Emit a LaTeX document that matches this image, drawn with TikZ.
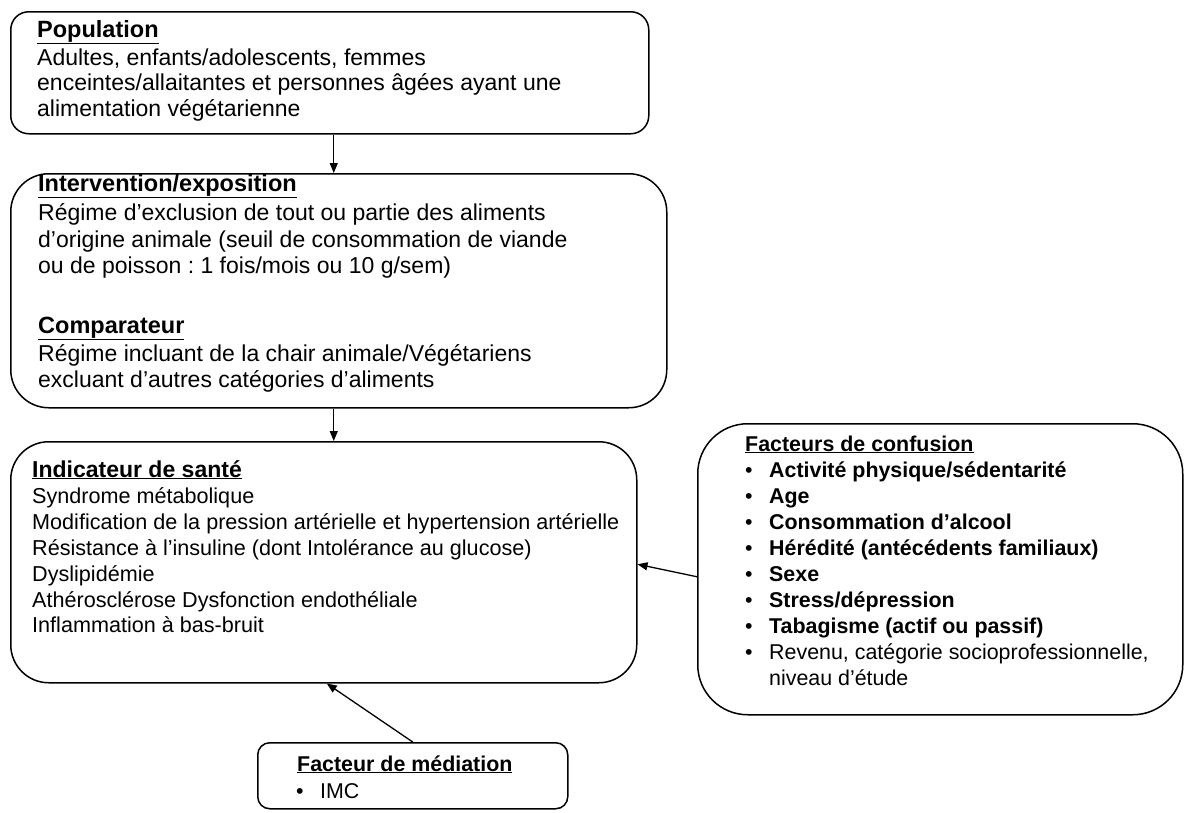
\documentclass[tikz,border=0pt]{standalone}
\usepackage{fontspec}
\setmainfont{Liberation Sans}
\usetikzlibrary{arrows.meta}
\frenchspacing
\begin{document}
\begin{tikzpicture}[x=1pt,y=-1pt,
  box/.style={draw=black, line width=1.5pt, fill=white, inner sep=0pt, anchor=north west},
  arr/.style={draw=black, line width=1.3pt, -{Triangle[length=10pt,width=8pt]}},
  ln/.style={anchor=base west, inner sep=0pt},
  hdA/.style={ln, font=\fontsize{23.5}{26}\selectfont\bfseries},
  bodyA/.style={ln, font=\fontsize{23}{26}\selectfont},
  hdB/.style={ln, font=\fontsize{23}{26}\selectfont\bfseries},
  bodyB/.style={ln, font=\fontsize{21.6}{26}\selectfont},
  hdC/.style={ln, font=\fontsize{21.4}{26}\selectfont\bfseries},
  itemC/.style={ln, font=\fontsize{21.4}{26}\selectfont\bfseries},
  plainC/.style={ln, font=\fontsize{21.4}{26}\selectfont},
  dot/.style={ln, font=\fontsize{21.4}{26}\selectfont}]

% page
\path[fill=white] (0,0) rectangle (1184,812);

% boxes
\node[box, rounded corners=18pt, minimum width=638pt, minimum height=122pt] (pop) at (10,11) {};
\node[box, rounded corners=38pt, minimum width=656pt, minimum height=234pt] (int) at (10,173) {};
\node[box, rounded corners=38pt, minimum width=626pt, minimum height=241pt] (ind) at (10,441) {};
\node[box, rounded corners=50pt, minimum width=485pt, minimum height=291pt] (conf) at (697,423) {};
\node[box, rounded corners=12pt, minimum width=310pt, minimum height=66pt] (med) at (257,742) {};

% Population
\node[hdA] (popT) at (37,37.3) {\underline{Population}};
\foreach \t [count=\i] in {{Adultes, enfants/adolescents, femmes},
  {enceintes/allaitantes et personnes âgées ayant une},
  {alimentation végétarienne}}
  \node[bodyA] (pop\i) at (37,{39.1+25.9*\i}) {\t};

% Intervention / Comparateur
\node[hdA] (intT) at (38,191) {\underline{Intervention/exposition}};
\foreach \t [count=\i] in {{Régime d’exclusion de tout ou partie des aliments},
  {d’origine animale (seuil de consommation de viande},
  {ou de poisson : 1 fois/mois ou 10 g/sem)}}
  \node[bodyA] (int\i) at (38,{194+26.5*\i}) {\t};
\node[hdA] (cmpT) at (38,333) {\underline{Comparateur}};
\node[bodyA] (cmp1) at (38,361) {Régime incluant de la chair animale/Végétariens};
\node[bodyA] (cmp2) at (38,387) {excluant d’autres catégories d’aliments};

% Indicateur de santé
\node[hdB] (indT) at (32,477) {\underline{Indicateur de santé}};
\foreach \t [count=\i] in {{Syndrome métabolique},
  {Modification de la pression artérielle et hypertension artérielle},
  {Résistance à l’insuline (dont Intolérance au glucose)},
  {Dyslipidémie},
  {Athérosclérose Dysfonction endothéliale},
  {Inflammation à bas-bruit}}
  \node[bodyB] (ind\i) at (32,{478+25.8*\i}) {\t};

% Facteurs de confusion
\node[hdC] (confT) at (745,451) {\underline{Facteurs de confusion}};
\foreach \t [count=\i] in {{Activité physique/sédentarité},{Age},
  {Consommation d’alcool},{Hérédité (antécédents familiaux)},
  {Sexe},{Stress/dépression},{Tabagisme (actif ou passif)}}{
  \node[dot] (confB\i) at (745,{451+26*\i}) {•};
  \node[itemC] (conf\i) at (769,{451+26*\i}) {\t};
}
\node[dot] (confB8) at (745,659) {•};
\node[plainC] (conf8) at (769,659) {Revenu, catégorie socioprofessionnelle,};
\node[plainC] (conf9) at (769,685) {niveau d’étude};

% Facteur de médiation
\node[hdC] (medT) at (297,771) {\underline{Facteur de médiation}};
\node[dot] (medB) at (296,798) {•};
\node[plainC] (med1) at (320,798) {IMC};

% connectors
\draw[arr] ([xshift=4pt]pop.south) -- ([xshift=4pt]pop.south |- int.north);
\draw[arr] ([xshift=-5pt]int.south) -- ([xshift=-5pt]int.south |- ind.north);
\draw[arr] ([yshift=-7.5pt]conf.west) -- ([yshift=-2pt]ind.east);
\draw[arr] (med.north) -- ([xshift=3pt]ind.south);
\end{tikzpicture}
\end{document}
